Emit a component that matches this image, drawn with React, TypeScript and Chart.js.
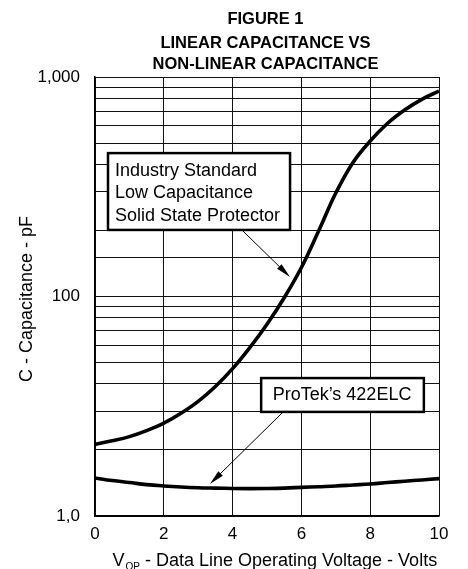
import React, { useEffect, useRef } from 'react';
import { Chart, registerables } from 'chart.js';

Chart.register(...registerables);

const FONT = '"Liberation Sans", Arial, Helvetica, sans-serif';

// Voltage samples (V)
const voltages = [0, 0.5, 1, 1.5, 2, 2.5, 3, 3.5, 4, 4.5, 5, 5.5, 6, 6.5, 7, 7.5, 8, 8.5, 9, 9.5, 10];
// Industry standard low capacitance solid state protector (pF)
const industryStandard = [21.2, 22.0, 23.0, 24.5, 26.5, 29.4, 33.3, 38.9, 46.9, 58.5, 74.8, 98.7, 135.6, 198.8, 296, 408, 511, 614, 707, 791, 863];
// ProTek's 422ELC (pF)
const protek = [14.9, 14.5, 14.2, 13.9, 13.7, 13.55, 13.45, 13.4, 13.35, 13.33, 13.35, 13.4, 13.5, 13.6, 13.7, 13.85, 14.0, 14.2, 14.4, 14.6, 14.8];

// Axis ticks
const xTicks = [0, 2, 4, 6, 8, 10];
const yLabelValues = [10, 100, 1000];
const yLabelTexts = ['1,0', '100', '1,000'];

const titleLines = ['FIGURE 1', 'LINEAR CAPACITANCE VS', 'NON-LINEAR CAPACITANCE'];
const yTitle = 'C - Capacitance - pF';
const xTitleMain = 'V';
const xTitleSub = 'OP';
const xTitleRest = ' - Data Line Operating Voltage - Volts';

// Callouts (box corners in data units: volts / pF)
const callout1Lines = ['Industry Standard', 'Low Capacitance', 'Solid State Protector'];
const callout1Box = [0.378, 450, 5.67, 201];
const callout1Arrow = [4.27, 201, 5.67, 122.7];
const callout2Lines = ['ProTek\u2019s 422ELC'];
const callout2Box = [4.83, 42.5, 9.56, 29.8];
const callout2Arrow = [5.47, 29.8, 3.34, 13.99];

function drawArrow(ctx: CanvasRenderingContext2D, x1: number, y1: number, x2: number, y2: number) {
  const ang = Math.atan2(y2 - y1, x2 - x1);
  const len = 15;
  const hw = 3.2;
  ctx.save();
  ctx.strokeStyle = '#000';
  ctx.fillStyle = '#000';
  ctx.lineWidth = 1;
  ctx.beginPath();
  ctx.moveTo(x1, y1);
  ctx.lineTo(x2 - Math.cos(ang) * len * 0.8, y2 - Math.sin(ang) * len * 0.8);
  ctx.stroke();
  const bx = x2 - Math.cos(ang) * len;
  const by = y2 - Math.sin(ang) * len;
  ctx.beginPath();
  ctx.moveTo(x2, y2);
  ctx.lineTo(bx + Math.cos(ang + Math.PI / 2) * hw, by + Math.sin(ang + Math.PI / 2) * hw);
  ctx.lineTo(bx + Math.cos(ang - Math.PI / 2) * hw, by + Math.sin(ang - Math.PI / 2) * hw);
  ctx.closePath();
  ctx.fill();
  ctx.restore();
}

function drawCallout(chart: any, box: number[], lines: string[], arrow: number[], firstBaseline: number, lineGap: number, textInset: number) {
  const { ctx, scales } = chart;
  const x = scales.x;
  const y = scales.y;
  const l = x.getPixelForValue(box[0]);
  const t = y.getPixelForValue(box[1]);
  const r = x.getPixelForValue(box[2]);
  const b = y.getPixelForValue(box[3]);
  drawArrow(ctx, x.getPixelForValue(arrow[0]), y.getPixelForValue(arrow[1]), x.getPixelForValue(arrow[2]), y.getPixelForValue(arrow[3]));
  ctx.save();
  ctx.fillStyle = '#fff';
  ctx.fillRect(l, t, r - l, b - t);
  ctx.strokeStyle = '#000';
  ctx.lineWidth = 2.5;
  ctx.strokeRect(l, t, r - l, b - t);
  ctx.fillStyle = '#000';
  ctx.font = `18px ${FONT}`;
  ctx.textAlign = 'left';
  ctx.textBaseline = 'alphabetic';
  lines.forEach((s, i) => ctx.fillText(s, l + textInset, t + firstBaseline + i * lineGap));
  ctx.restore();
}

const decorPlugin = {
  id: 'decor',
  afterDatasetsDraw(chart: any) {
    drawCallout(chart, callout1Box, callout1Lines, callout1Arrow, 23, 22.2, 7);
    drawCallout(chart, callout2Box, callout2Lines, callout2Arrow, 22, 22, 11.5);
  },
  afterDraw(chart: any) {
    const { ctx, chartArea } = chart;
    ctx.save();
    ctx.fillStyle = '#000';
    // Title
    ctx.font = `bold 16.5px ${FONT}`;
    ctx.textAlign = 'center';
    ctx.textBaseline = 'middle';
    const ty = [19.5, 43.5, 64.5];
    titleLines.forEach((s, i) => ctx.fillText(s, 265.5, ty[i]));
    // Y axis title
    ctx.save();
    ctx.translate(27, 299);
    ctx.rotate(-Math.PI / 2);
    ctx.font = `18px ${FONT}`;
    ctx.textAlign = 'center';
    ctx.textBaseline = 'middle';
    ctx.fillText(yTitle, 0, 0);
    ctx.restore();
    // X axis title with subscript
    const bx = chartArea.left + 17.5;
    const by = 566;
    ctx.textAlign = 'left';
    ctx.textBaseline = 'alphabetic';
    ctx.font = `18px ${FONT}`;
    ctx.fillText(xTitleMain, bx, by);
    let cx = bx + ctx.measureText(xTitleMain).width + 1;
    ctx.font = `10px ${FONT}`;
    ctx.fillText(xTitleSub, cx, by + 4);
    cx += ctx.measureText(xTitleSub).width;
    ctx.font = `18px ${FONT}`;
    ctx.fillText(xTitleRest, cx, by);
    ctx.restore();
  },
};

export default function App() {
  const canvasRef = useRef<HTMLCanvasElement | null>(null);

  useEffect(() => {
    if (!canvasRef.current) return;
    const chart = new Chart(canvasRef.current, {
      type: 'line',
      data: {
        datasets: [
          {
            label: 'Industry Standard Low Capacitance Solid State Protector',
            data: voltages.map((v, i) => ({ x: v, y: industryStandard[i] })),
            borderColor: '#000',
            borderWidth: 3.6,
            pointRadius: 0,
            tension: 0.4,
            fill: false,
          },
          {
            label: 'ProTek\u2019s 422ELC',
            data: voltages.map((v, i) => ({ x: v, y: protek[i] })),
            borderColor: '#000',
            borderWidth: 3.6,
            pointRadius: 0,
            tension: 0.4,
            fill: false,
          },
        ],
      },
      options: {
        animation: false,
        responsive: true,
        maintainAspectRatio: false,
        layout: { padding: { top: 77, right: 29, left: 0, bottom: 0 } },
        plugins: {
          legend: { display: false },
          tooltip: { enabled: false },
          title: { display: false },
        },
        scales: {
          x: {
            type: 'linear',
            min: 0,
            max: 10,
            afterFit: (s: any) => { s.height = 53; },
            afterBuildTicks: (s: any) => { s.ticks = xTicks.map((v) => ({ value: v })); },
            ticks: {
              color: '#000',
              font: { family: FONT, size: 17 },
              padding: 8,
              maxRotation: 0,
              autoSkip: false,
            },
            grid: { color: '#111', lineWidth: 1, drawTicks: false },
            border: { display: true, color: '#000', width: 1.5 },
          },
          y: {
            type: 'logarithmic',
            min: 10,
            max: 1000,
            afterFit: (s: any) => { s.width = 95; },
            ticks: {
              color: '#000',
              font: { family: FONT, size: 17 },
              padding: 15,
              autoSkip: false,
              callback: (val: any) => {
                const idx = yLabelValues.indexOf(Number(val));
                return idx >= 0 ? yLabelTexts[idx] : '';
              },
            },
            grid: { color: '#111', lineWidth: 1, drawTicks: false },
            border: { display: true, color: '#000', width: 1.5 },
          },
        },
      },
      plugins: [decorPlugin],
    });
    return () => chart.destroy();
  }, []);

  return (
    <div style={{ position: 'absolute', left: 0, top: 0, width: 468, height: 569, background: '#fff' }}>
      <canvas ref={canvasRef} />
    </div>
  );
}
